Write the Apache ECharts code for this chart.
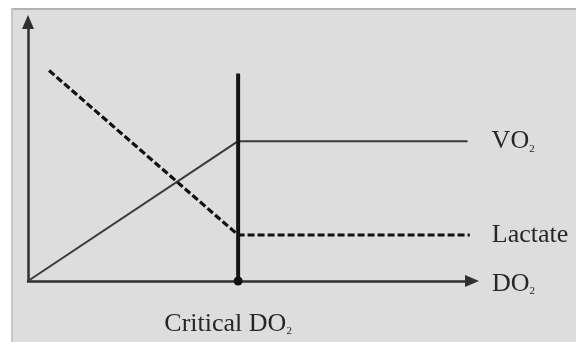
<!DOCTYPE html>
<html>
<head>
<meta charset="utf-8">
<script src="https://cdn.jsdelivr.net/npm/echarts@6/dist/echarts.min.js"></script>
<style>
  html, body { margin: 0; padding: 0; background: #fff; }
  #main { width: 576px; height: 342px; }
</style>
</head>
<body>
<div id="main"></div>
<script>
// DO2 positions (x) and the two curves
let vo2X = [0, 47.8, 100];
let vo2Y = [0, 55.6, 55.6];
let lactateX = [4.8, 47.8, 100.5];
let lactateY = [83.7, 18.3, 18.3];
// critical DO2 marker
let criticalX = 47.8;
let criticalTop = 82.5;

let font = '"Liberation Serif", "Times New Roman", serif';
let rich = {
    b: { fontFamily: font, fontSize: 26, color: '#262626', lineHeight: 26, verticalAlign: 'bottom' },
    sub: { fontFamily: font, fontSize: 11, color: '#262626', lineHeight: 14, verticalAlign: 'bottom' }
};

function pairs(xs, ys) {
    return xs.map((x, i) => [x, ys[i]]);
}

let myChart = echarts.init(document.getElementById('main'));
let option = {
    animation: false,
    backgroundColor: '#ffffff',
    graphic: [
        { type: 'rect', z: -10, shape: { x: 11, y: 8, width: 565, height: 334 },
          style: { fill: '#dddddd' } },
        { type: 'rect', z: -9, shape: { x: 11, y: 8, width: 565, height: 2 },
          style: { fill: '#b2b2b2' } },
        { type: 'rect', z: -9, shape: { x: 11, y: 8, width: 2, height: 334 },
          style: { fill: '#c6c6c6' } }
    ],
    grid: { left: 28, right: 104, top: 22, bottom: 61 },
    xAxis: {
        type: 'value', min: 0, max: 101,
        name: '{b|DO}{sub|2}',
        nameLocation: 'end',
        nameGap: 20,
        nameTextStyle: { rich: rich, align: 'left', verticalAlign: 'middle', padding: [6, 0, 0, 0] },
        axisLine: { lineStyle: { color: '#303030', width: 2.5 }, symbol: ['none', 'triangle'], symbolSize: [12, 14] },
        axisTick: { show: false },
        splitLine: { show: false },
        axisLabel: {
            customValues: [criticalX],
            margin: 30,
            padding: [0, 20, 0, 0],
            formatter: () => '{b|Critical DO}{sub|2}',
            rich: rich
        }
    },
    yAxis: {
        type: 'value', min: 0, max: 103,
        axisLine: { show: true, lineStyle: { color: '#303030', width: 2.5 }, symbol: ['none', 'triangle'], symbolSize: [12, 14] },
        axisTick: { show: false },
        axisLabel: { show: false },
        splitLine: { show: false }
    },
    series: [
        {
            name: 'VO2', type: 'line', data: pairs(vo2X, vo2Y),
            showSymbol: false, z: 3,
            lineStyle: { color: '#3a3a3a', width: 2 },
            endLabel: { show: true, distance: 24, formatter: '{b|VO}{sub|2}', rich: rich }
        },
        {
            name: 'Lactate', type: 'line', data: pairs(lactateX, lactateY),
            showSymbol: false, z: 3,
            lineStyle: { color: '#111', width: 3.2, type: [7, 3] },
            endLabel: { show: true, distance: 22, formatter: '{b|Lactate}', rich: rich }
        },
        {
            name: 'Critical', type: 'line', data: [[criticalX, 0], [criticalX, criticalTop]],
            symbol: (v, p) => (p.dataIndex === 0 ? 'circle' : 'none'),
            symbolSize: 9, showSymbol: true, showAllSymbol: true, z: 4,
            itemStyle: { color: '#111', borderWidth: 0 },
            lineStyle: { color: '#141414', width: 4 }
        }
    ]
};
myChart.setOption(option);
</script>
</body>
</html>
